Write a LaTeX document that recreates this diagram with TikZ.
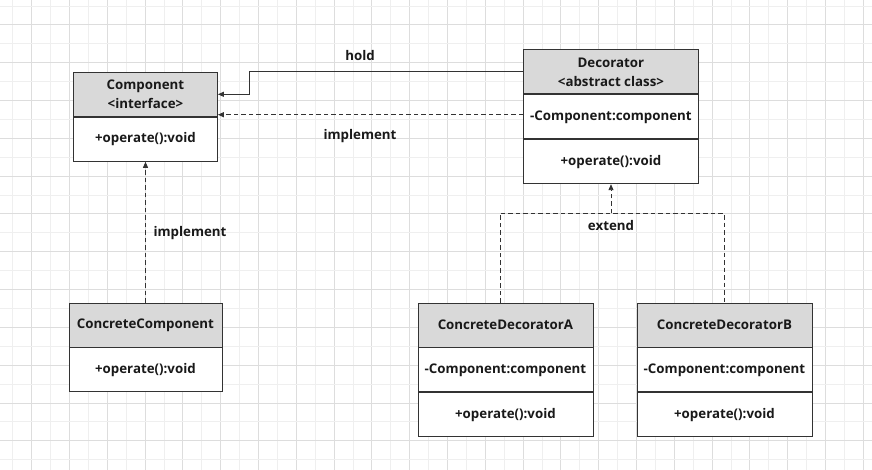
\documentclass[tikz,border=0pt]{standalone}
\usepackage{fontspec}
\setmainfont{Open Sans}
\usetikzlibrary{arrows.meta}
\definecolor{hdr}{HTML}{D9D9D9}
\definecolor{brd}{HTML}{333333}
\definecolor{gmin}{HTML}{EFEFEF}
\definecolor{gmaj}{HTML}{DDDDDD}
\begin{document}
\begin{tikzpicture}[x=1pt,y=-1pt,
  cell/.style={draw=brd,line width=0.9pt,minimum height=44pt,inner sep=0pt,font=\fontsize{13.3}{19}\selectfont\bfseries,text=black!90,align=center},
  head/.style={cell,fill=hdr},
  body/.style={cell,fill=white},
  conn/.style={draw=brd,line width=0.9pt},
  dashconn/.style={conn,dash pattern=on 4.5pt off 3pt},
  arr/.style={-{Triangle[length=6pt,width=5pt]}},
  lbl/.style={font=\fontsize{13.3}{16}\selectfont\bfseries,text=black!90}]
\useasboundingbox (0,0) rectangle (872,470);
\fill[white] (0,0) rectangle (872,470);
% grid
\foreach \i in {0,...,46} {
  \pgfmathsetmacro{\xx}{12.7+18.9*\i}
  \pgfmathtruncatemacro{\odd}{mod(\i,2)}
  \ifnum\odd=1 \draw[gmaj,line width=0.8pt] (\xx,0) -- (\xx,470); \else \draw[gmin,line width=0.8pt] (\xx,0) -- (\xx,470); \fi
}
\foreach \i in {0,...,25} {
  \pgfmathsetmacro{\yy}{6+18.9*\i}
  \pgfmathtruncatemacro{\odd}{mod(\i,2)}
  \ifnum\odd=1 \draw[gmaj,line width=0.8pt] (0,\yy) -- (872,\yy); \else \draw[gmin,line width=0.8pt] (0,\yy) -- (872,\yy); \fi
}
% Component
\node[head,minimum width=144pt,anchor=north west] (comp) at (73,72) {Component\\<interface>};
\node[body,minimum width=144pt,anchor=north] (compb) at (comp.south) {+operate():void};
% Decorator
\node[head,minimum width=175pt,anchor=north west] (dec) at (523,49.5) {Decorator\\<abstract class>};
\node[body,minimum width=175pt,anchor=north] (decf) at (dec.south) {-Component:component};
\node[body,minimum width=175pt,anchor=north] (decm) at (decf.south) {+operate():void};
% ConcreteComponent
\node[head,minimum width=153pt,anchor=north west] (cc) at (68.5,302.5) {ConcreteComponent};
\node[body,minimum width=153pt,anchor=north] (ccm) at (cc.south) {+operate():void};
% ConcreteDecoratorA
\node[head,minimum width=175pt,anchor=north west] (cda) at (417.5,302.5) {ConcreteDecoratorA};
\node[body,minimum width=175pt,anchor=north] (cdaf) at (cda.south) {-Component:component};
\node[body,minimum width=175pt,anchor=north] (cdam) at (cdaf.south) {+operate():void};
% ConcreteDecoratorB
\node[head,minimum width=175pt,anchor=north west] (cdb) at (636.5,302.5) {ConcreteDecoratorB};
\node[body,minimum width=175pt,anchor=north] (cdbf) at (cdb.south) {-Component:component};
\node[body,minimum width=175pt,anchor=north] (cdbm) at (cdbf.south) {+operate():void};
% hold
\coordinate (h1) at (249.5,71.7);
\coordinate (h2) at (249.5,94.3);
\draw[conn,arr] (dec.west |- h1) -- (h1) -- (h2) -- (comp.east |- h2);
\node[lbl] (holdl) at (360,56) {hold};
% implement (decorator -> component)
\draw[dashconn,arr] (dec.west |- 0,114.7) -- (comp.east |- 0,114.7);
\node[lbl] (impl1) at (360,136) {implement};
% implement (concrete component -> component)
\draw[dashconn,arr] (cc.north -| 145.5,0) -- (compb.south -| 145.5,0);
\node[lbl] (impl2) at (190,233) {implement};
% extend
\coordinate (ej) at (611,213.3);
\draw[dashconn] (cda.north -| 500,0) -- (500,213.3) -- (724,213.3) -- (cdb.north -| 724,0);
\draw[dashconn,arr] (ej) -- (decm.south -| ej);
\node[lbl] (extl) at (611,226) {extend};
\end{tikzpicture}
\end{document}
